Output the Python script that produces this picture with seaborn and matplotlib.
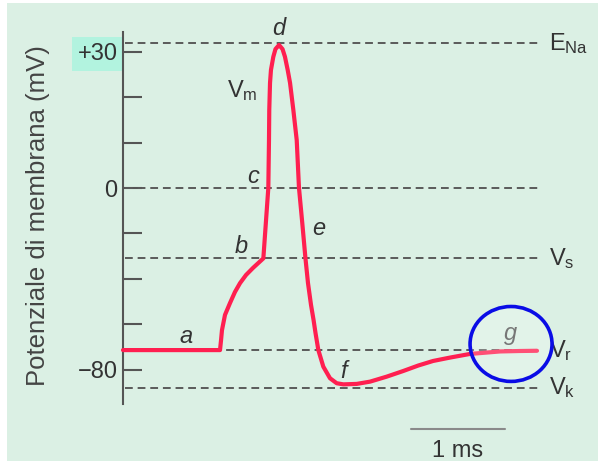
import matplotlib
matplotlib.use('Agg')
import matplotlib.pyplot as plt
from matplotlib.patches import Ellipse
import seaborn as sns

# Potenziale d'azione schematico: tempo (ms) e potenziale (mV)
t_ms = [0.0, 1.032, 1.043, 1.053, 1.085, 1.138, 1.191, 1.245, 1.309, 1.383,
        1.493, 1.546, 1.553, 1.556, 1.564, 1.574, 1.599, 1.622, 1.660, 1.697,
        1.723, 1.752, 1.777, 1.812, 1.848, 1.872, 1.907, 1.941, 1.968, 2.000,
        2.027, 2.048, 2.078, 2.131, 2.202, 2.273, 2.344, 2.486, 2.628, 2.805,
        2.982, 3.141, 3.298, 3.479, 3.691, 4.011, 4.223, 4.404]
v_mv = [-71.4, -71.4, -67.0, -62.6, -55.9, -50.7, -45.8, -41.9, -38.3, -35.2,
        -31.0, 0.1, 21.1, 34.4, 46.3, 52.0, 57.8, 61.2, 63.0, 61.2,
        57.8, 52.0, 46.3, 34.4, 21.1, 0.1, -15.4, -31.0, -41.9, -51.5,
        -58.1, -63.9, -71.4, -78.7, -83.8, -86.0, -86.5, -86.3, -85.3, -83.1,
        -80.6, -78.2, -76.2, -74.7, -73.1, -72.0, -71.8, -71.7]

# livelli di riferimento (linee tratteggiate)
level_values = [63.7, 0.0, -31.0, -71.4, -88.0]
level_names = [r'$\mathrm{E_{Na}}$', '', r'$\mathrm{V_s}$', r'$\mathrm{V_r}$', r'$\mathrm{V_k}$']

tick_values = [-80, -60, -40, -20, 0, 20, 40, 60]
tick_labels = ['\u221280', '', '', '', '0', '', '', '+30']

phase_letters = ['a', 'b', 'c', 'd', 'e', 'f', 'g']
scale_bar_ms = 1.0

sns.set_theme(style='white')
plt.rcParams['font.family'] = ['Liberation Sans', 'DejaVu Sans']
plt.rcParams['mathtext.fontset'] = 'custom'
plt.rcParams['mathtext.rm'] = 'Liberation Sans'
plt.rcParams['mathtext.it'] = 'Liberation Sans:italic'

fig = plt.figure(figsize=(5.98, 4.63), dpi=100)
fig.patch.set_facecolor('white')
ax = fig.add_axes([7 / 598, 2 / 463, 591 / 598, 458 / 463])
ax.set_facecolor('#dbf0e4')
ax.set_xlim(-1.234, 5.053)
ax.set_ylim(-120.26, 81.5)

# asse verticale
for s in ['top', 'right', 'bottom']:
    ax.spines[s].set_visible(False)
ax.spines['left'].set_position(('data', 0))
ax.spines['left'].set_bounds(-95.2, 68.7)
ax.spines['left'].set_color('#555555')
ax.spines['left'].set_linewidth(1.5)
ax.set_xticks([])
ax.set_yticks(tick_values, tick_labels)
ax.tick_params(axis='y', direction='in', length=13.5, width=1.5, color='#555555',
               labelsize=17, labelcolor='#333333', pad=4, left=True)
top_label = ax.get_yticklabels()[-1]
top_label.set_bbox(dict(boxstyle='square,pad=0.25', facecolor='#b2f3df', edgecolor='none'))

ax.set_ylabel('Potenziale di membrana (mV)', fontsize=18.5, color='#444444')
ax.yaxis.set_label_coords(0.073, 0.535)

# linee tratteggiate
ax.hlines(level_values, 0.02, 4.45, colors='#5a5a5a', linewidth=1.4,
          linestyles=(0, (4, 2.5)), zorder=1)
for name, lv in zip(level_names, level_values):
    if name:
        ax.text(4.53, lv, name, ha='left', va='center', fontsize=17, color='#333333')

# curva
sns.lineplot(x=t_ms, y=v_mv, ax=ax, color='#ff1f50', linewidth=3,
             estimator=None, sort=False, zorder=3)

# lettere delle fasi
letter_pos = [(0.67, -68.3), (1.255, -28.6), (1.383, 2.2), (1.66, 67.4),
              (2.085, -20.7), (2.35, -83.7), (4.12, -67.0)]
for letter, (x, y) in zip(phase_letters, letter_pos):
    ax.text(x, y, letter, style='italic', fontsize=17, ha='center', va='baseline',
            color='#777777' if letter == 'g' else '#333333', zorder=5)
ax.text(1.27, 40.1, r'$\mathrm{V_m}$', fontsize=17, ha='center', va='baseline', color='#333333')

# cerchio blu
ax.add_patch(Ellipse((4.128, -68.7), 0.872, 33.0, facecolor=(1, 1, 1, 0.22),
                     edgecolor='#0a0ce6', linewidth=2.6, zorder=4))

# barra di scala
ax.plot([3.064, 3.064 + scale_bar_ms], [-106.2, -106.2], color='#8a8a8a', linewidth=1.5)
ax.text(3.064 + scale_bar_ms / 2, -118.6, '1 ms', ha='center', va='baseline',
        fontsize=17, color='#333333')

fig.savefig('out.png', dpi=100)
